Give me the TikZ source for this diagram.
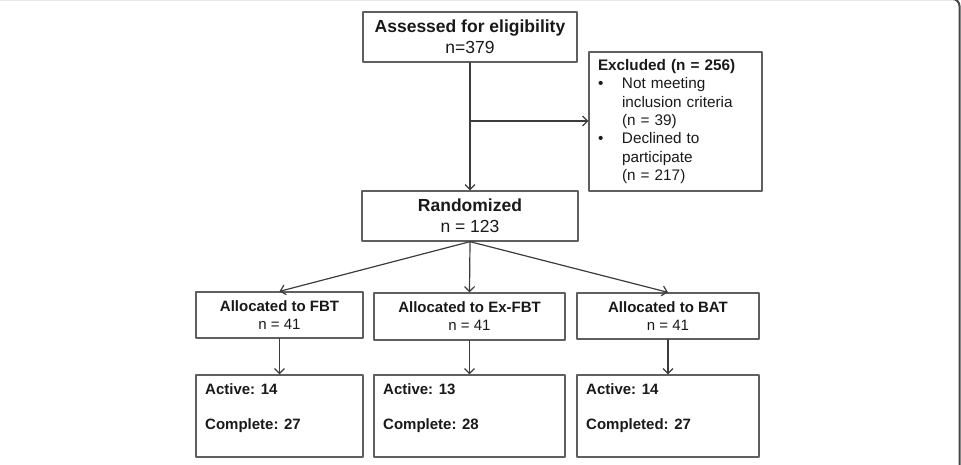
\documentclass[tikz,border=0pt]{standalone}
\usepackage{fontspec}
\setmainfont{Liberation Sans}
\usetikzlibrary{arrows.meta}

\definecolor{boxgray}{RGB}{95,95,95}
\definecolor{linegray}{RGB}{60,60,60}
\definecolor{framegray}{RGB}{70,70,70}

\begin{document}
\begin{tikzpicture}[x=1pt,y=-1pt,line join=round,line cap=round,
  box/.style={draw=boxgray,line width=1.3pt,inner sep=0pt,align=center,text=black!90},
  flow/.style={draw=linegray,line width=1.2pt,-{Straight Barb[length=5pt,width=10pt]}},
  celltext/.style={anchor=west,inner sep=0pt,text=black!90,font=\fontsize{15}{18}\selectfont\bfseries}]

  \useasboundingbox (0,0) rectangle (961,464);
  \clip (0,0) rectangle (961,464);

  % ---- page frame ----
  \draw[framegray,line width=2pt,rounded corners=7pt] (-20,-1) rectangle (959.5,490);

  % ---- enrolment ----
  \node[box,minimum width=214,minimum height=50,font=\fontsize{17.5}{21}\selectfont]
    (assess) at (470,37) {\textbf{Assessed for eligibility}\\n=379};

  \node[box,minimum width=173,minimum height=139,text width=155,inner xsep=9pt,align=left,
    font=\fontsize{15.3}{18.4}\selectfont] (excl) at (675.5,121.5)
    {\textbf{Excluded (n = 256)}\\
     \makebox[24pt][l]{\textbullet}Not meeting\\
     \hspace*{24pt}inclusion criteria\\
     \hspace*{24pt}(n = 39)\\
     \makebox[24pt][l]{\textbullet}Declined to\\
     \hspace*{24pt}participate\\
     \hspace*{24pt}(n = 217)};

  \node[box,minimum width=216,minimum height=50,font=\fontsize{17.5}{21}\selectfont]
    (rand) at (470,216) {\textbf{Randomized}\\n = 123};

  % ---- allocation ----
  \node[box,minimum width=167,minimum height=46,font=\fontsize{15}{18}\selectfont]
    (fbt) at (279.5,315) {\textbf{Allocated to FBT}\\n = 41};
  \node[box,minimum width=191,minimum height=47,font=\fontsize{15}{18}\selectfont]
    (exfbt) at (469.5,316.5) {\textbf{Allocated to Ex-FBT}\\n = 41};
  \node[box,minimum width=182,minimum height=46,font=\fontsize{15}{18}\selectfont]
    (bat) at (668,316) {\textbf{Allocated to BAT}\\n = 41};

  % ---- outcome boxes ----
  \node[box,minimum width=167,minimum height=82] (fbtout) at (279.5,416) {};
  \node[box,minimum width=191,minimum height=82] (exfbtout) at (469.5,416) {};
  \node[box,minimum width=182,minimum height=82] (batout) at (668,416) {};

  \node[celltext] (fbtact) at (205,389) {Active: 14};
  \node[celltext] (fbtcomp) at (205,426) {Complete: 27};
  \node[celltext] (exfbtact) at (383,389) {Active: 13};
  \node[celltext] (exfbtcomp) at (383,426) {Complete: 28};
  \node[celltext] (batact) at (586,389) {Active: 14};
  \node[celltext] (batcomp) at (586,426) {Completed: 27};

  % ---- connectors ----
  \coordinate (branch) at (470,121);
  \draw[flow] (assess) -- (rand);
  \draw[flow] (branch) -- (branch -| excl.west);

  \draw[flow] (rand.south) -- (fbt.north);
  \draw[flow] (rand.south) -- (exfbt.north);
  \draw[flow] (rand.south) -- (bat.north);

  \draw[flow] (fbt) -- (fbtout);
  \draw[flow] (exfbt) -- (exfbtout);
  \draw[flow] (bat) -- (batout);

\end{tikzpicture}
\end{document}
